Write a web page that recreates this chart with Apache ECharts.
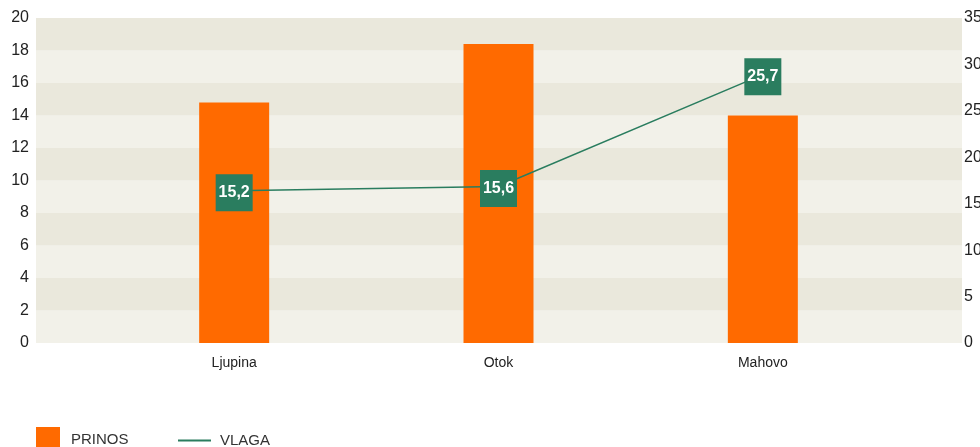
<!DOCTYPE html>
<html><head><meta charset="utf-8">
<script src="https://cdn.jsdelivr.net/npm/echarts@6/dist/echarts.min.js"></script>
<style>html,body{margin:0;padding:0;background:#fff}#c{width:980px;height:447px}</style>
</head><body><div id="c"></div>
<script>
const categories = ['Ljupina', 'Otok', 'Mahovo'];
const prinos = [14.8, 18.4, 14.0];
const vlaga = [16.4, 16.85, 28.9];
const vlagaLabels = ['15,2', '15,6', '25,7'];

const chart = echarts.init(document.getElementById('c'));
const font = 'Liberation Sans, Arial, sans-serif';
chart.setOption({
  animation: false,
  grid: [
    {left: 36, right: 18, top: 18, bottom: 104, outerBoundsMode: 'none'},
    {left: 102, right: 85, top: 18, bottom: 104, outerBoundsMode: 'none'}
  ],
  xAxis: [
    {gridIndex: 0, type: 'category', data: categories, show: false},
    {gridIndex: 1, type: 'category', data: categories,
     axisLine: {show: false}, axisTick: {show: false},
     axisLabel: {margin: 13, fontSize: 14, color: '#222', fontFamily: 'Liberation Sans Narrow, Liberation Sans, Arial'}}
  ],
  yAxis: [
    {gridIndex: 0, type: 'value', min: 0, max: 20, interval: 2, position: 'left',
     axisLine: {show: false}, axisTick: {show: false}, splitLine: {show: false},
     splitArea: {show: true, areaStyle: {color: ['#F2F1E9', '#EAE8DC']}},
     axisLabel: {margin: 7, fontSize: 16, color: '#222', fontFamily: font}},
    {gridIndex: 0, type: 'value', min: 0, max: 35, interval: 5, position: 'right',
     axisLine: {show: false}, axisTick: {show: false}, splitLine: {show: false},
     axisLabel: {margin: 2, fontSize: 16, color: '#222', fontFamily: font}},
    {gridIndex: 1, type: 'value', min: 0, max: 20, interval: 2, show: false},
    {gridIndex: 1, type: 'value', min: 0, max: 35, interval: 5, show: false}
  ],
  legend: [
    {data: ['PRINOS'], left: 36, top: 427, padding: 0, itemWidth: 24, itemHeight: 20, icon: 'rect',
     formatter: '{t|{name}}',
     textStyle: {fontSize: 15, color: '#333', fontFamily: font, padding: [0, 0, 0, 6],
       rich: {t: {fontSize: 15, color: '#333', fontFamily: font, padding: [6, 0, 0, 0]}}}},
    {data: ['VLAGA'], left: 178, top: 433, padding: 0, itemWidth: 33, itemHeight: 2, icon: 'rect',
     textStyle: {fontSize: 15, color: '#333', fontFamily: font, padding: [0, 0, 0, 4]}}
  ],
  series: [
    {name: 'PRINOS', type: 'bar', xAxisIndex: 1, yAxisIndex: 2, data: prinos,
     barWidth: 70, itemStyle: {color: '#FF6A00'}},
    {name: 'VLAGA', type: 'line', xAxisIndex: 1, yAxisIndex: 3, data: vlaga,
     symbol: 'rect', symbolSize: 2,
     lineStyle: {color: '#2A7D5F', width: 1.5}, itemStyle: {color: '#2A7D5F'},
     label: {show: true, position: 'inside', formatter: p => vlagaLabels[p.dataIndex],
       backgroundColor: '#2A7D5F', color: '#fff', fontWeight: 'bold', fontSize: 16,
       fontFamily: font, width: 37, height: 37, lineHeight: 37, align: 'center', verticalAlign: 'middle', offset: [0, 2]}}
  ]
});
</script></body></html>
